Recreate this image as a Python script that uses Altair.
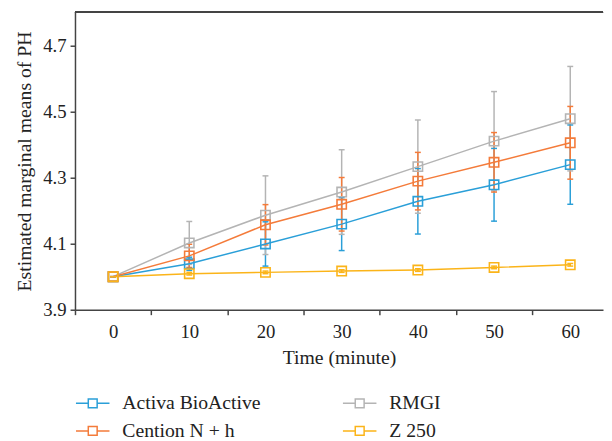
import altair as alt
import pandas as pd

times = [0, 10, 20, 30, 40, 50, 60]
series_names = ["Activa BioActive", "Cention N + h", "RMGI", "Z 250"]
series_colors = ["#2a9fd8", "#f47b3a", "#b4b4b4", "#fbb419"]

activa_mean = [4.000, 4.039, 4.099, 4.159, 4.228, 4.278, 4.339]
activa_err = [0.000, 0.020, 0.067, 0.080, 0.099, 0.110, 0.120]
rmgi_mean = [4.000, 4.102, 4.186, 4.256, 4.333, 4.410, 4.478]
rmgi_err = [0.000, 0.065, 0.119, 0.128, 0.141, 0.150, 0.158]
cention_mean = [4.000, 4.063, 4.157, 4.219, 4.289, 4.346, 4.405]
cention_err = [0.000, 0.035, 0.061, 0.081, 0.087, 0.090, 0.110]
z250_mean = [4.000, 4.009, 4.013, 4.017, 4.020, 4.028, 4.036]
z250_err = [0.000, 0.004, 0.004, 0.004, 0.004, 0.004, 0.004]

x_ticks = [-5, 5, 15, 25, 35, 45, 55]
y_ticks = [3.9, 4.1, 4.3, 4.5, 4.7]

rows = []
for name, means, errs in [
    ("Activa BioActive", activa_mean, activa_err),
    ("RMGI", rmgi_mean, rmgi_err),
    ("Cention N + h", cention_mean, cention_err),
    ("Z 250", z250_mean, z250_err),
]:
    for t, m, e in zip(times, means, errs):
        rows.append({"time": t, "series": name, "mean": m, "lo": m - e, "hi": m + e})
df = pd.DataFrame(rows)

FONT = "Liberation Serif"
AX = "#444444"

xscale = alt.Scale(domain=[-5, 64.3], nice=False, zero=False)
yscale = alt.Scale(domain=[3.9, 4.8], nice=False, zero=False)

x_axis = alt.Axis(
    values=x_ticks, labelExpr="datum.value + 5", labelOffset=38.7,
    labelFlush=False, labelOverlap=False, grid=False,
    title="Time (minute)", titleFont=FONT, titleFontSize=20, titleFontWeight="normal",
    titleColor="#222222", titlePadding=7,
    labelFont=FONT, labelFontSize=19, labelColor="#222222", labelPadding=8,
    domainColor=AX, domainWidth=1.5, tickColor=AX, tickWidth=1.5, tickSize=5,
)
y_axis = alt.Axis(
    values=y_ticks, format=".1f", labelFlush=False, labelOverlap=False, grid=False,
    title="Estimated marginal means of PH", titleFont=FONT, titleFontSize=20,
    titleFontWeight="normal", titleColor="#222222", titlePadding=8,
    labelFont=FONT, labelFontSize=19, labelColor="#222222", labelPadding=4,
    domainColor=AX, domainWidth=1.5, tickColor=AX, tickWidth=1.5, tickSize=5,
)

sym_path = "M-2.43,0L-0.643,0M0.643,0L2.43,0M-0.643,-0.643L0.643,-0.643L0.643,0.643L-0.643,0.643Z"
color_enc = alt.Color(
    "series:N",
    scale=alt.Scale(domain=series_names, range=series_colors),
    legend=alt.Legend(
        title=None, orient="none", legendX=8, legendY=387, columns=2,
        columnPadding=79, rowPadding=8, symbolType=sym_path, symbolSize=196,
        symbolStrokeWidth=1.5, symbolFillColor="transparent", symbolOpacity=1,
        labelFont=FONT, labelFontSize=20, labelColor="#222222", labelOffset=20,
        padding=0,
    ),
)

base = alt.Chart(df)

err_rule = base.mark_rule(strokeWidth=1.5).encode(
    x=alt.X("time:Q", scale=xscale, axis=x_axis),
    y=alt.Y("lo:Q", scale=yscale, axis=y_axis),
    y2="hi:Q",
    color=color_enc,
)
cap_lo = base.mark_rule(strokeWidth=1.5, xOffset=-3, x2Offset=3).encode(
    x="time:Q", x2="time:Q", y="lo:Q", color=color_enc
)
cap_hi = base.mark_rule(strokeWidth=1.5, xOffset=-3, x2Offset=3).encode(
    x="time:Q", x2="time:Q", y="hi:Q", color=color_enc
)
lines = base.mark_line(strokeWidth=1.5).encode(
    x="time:Q", y="mean:Q", color=color_enc
)
points = base.mark_point(shape="square", filled=False, size=90, strokeWidth=1.6, opacity=1).encode(
    x="time:Q", y="mean:Q", color=color_enc
)
top_border = alt.Chart(df).mark_rule(color=AX, strokeWidth=1.5).encode(y=alt.value(0))

chart = (
    alt.layer(err_rule, cap_lo, cap_hi, lines, points, top_border)
    .properties(width=536, height=302, padding={"left": 7, "top": 0, "right": 0, "bottom": 0},
                background="white")
    .configure_view(strokeOpacity=0)
)

chart.save("out.html", embed_options={"renderer": "svg", "actions": False})
